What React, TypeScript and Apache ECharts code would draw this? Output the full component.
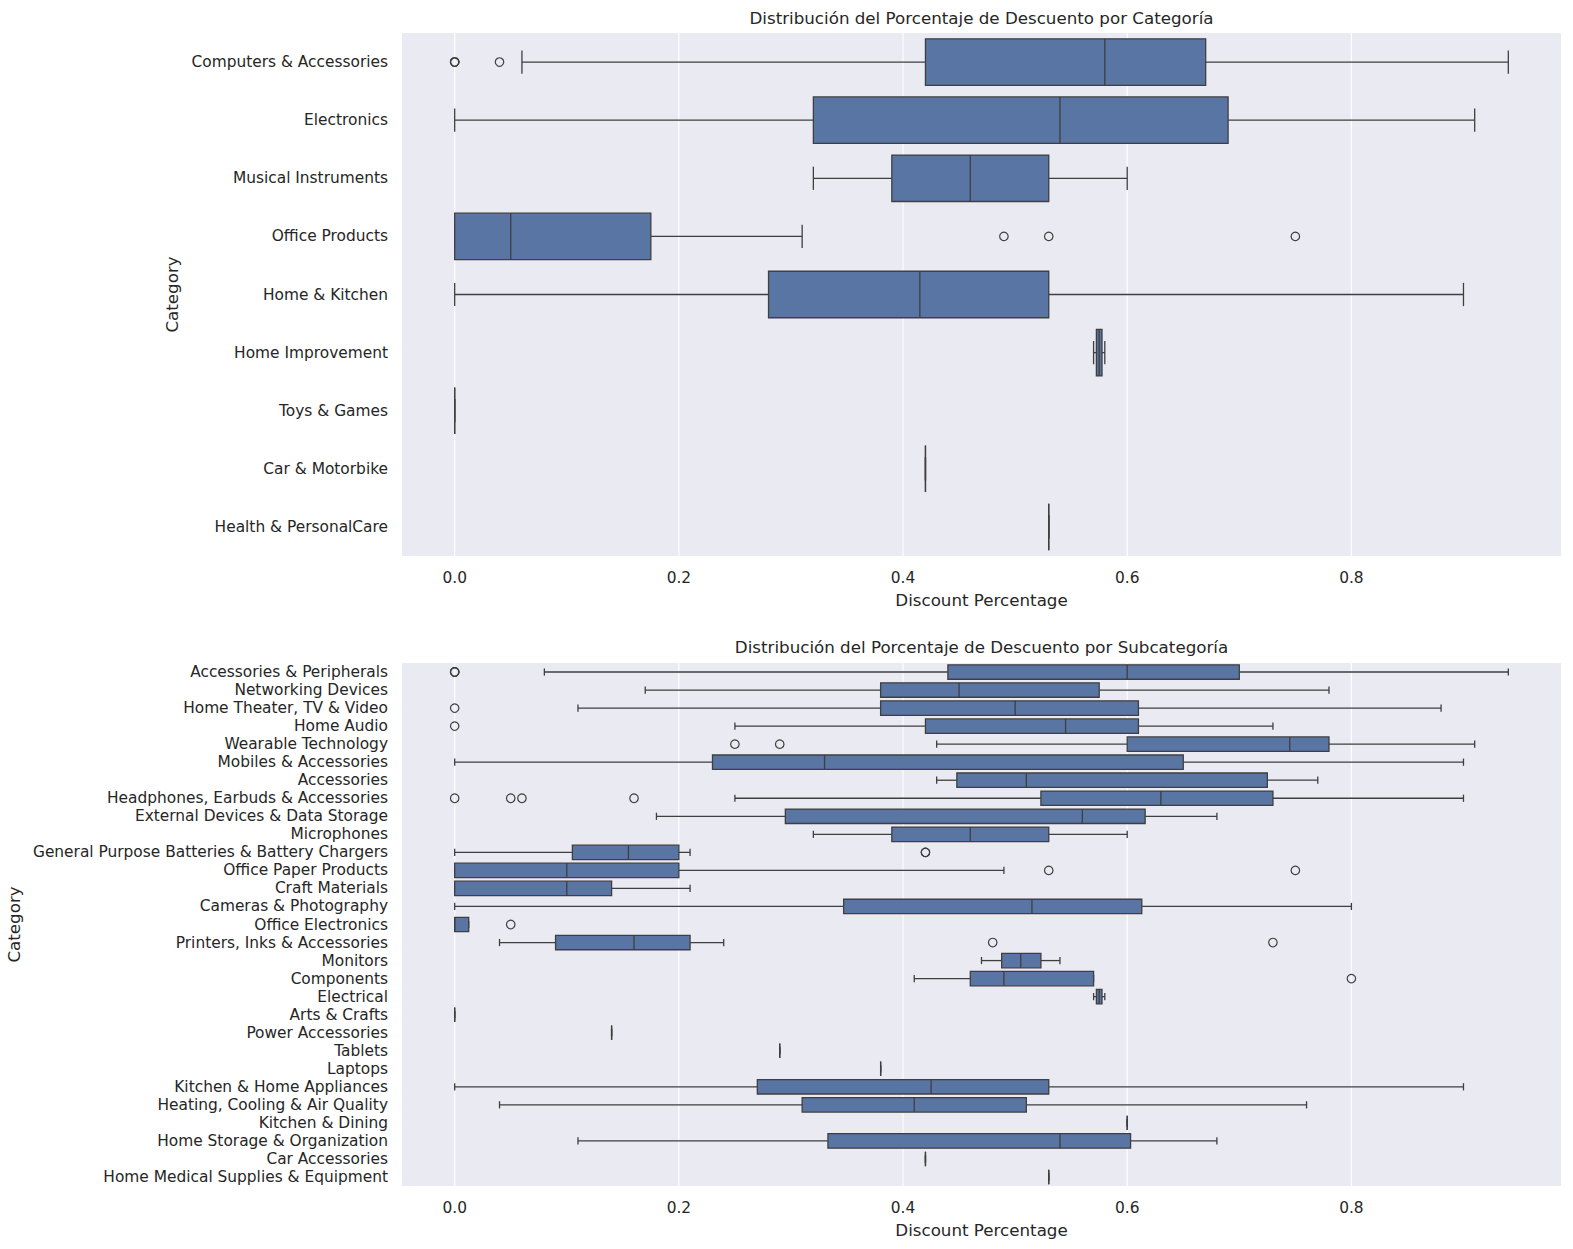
import React, { useEffect, useRef } from "react";
import * as echarts from "echarts";

// ---------- Top chart: by Category ----------
const topCategories = [
  "Computers & Accessories",
  "Electronics",
  "Musical Instruments",
  "Office Products",
  "Home & Kitchen",
  "Home Improvement",
  "Toys & Games",
  "Car & Motorbike",
  "Health & PersonalCare",
];
const topMin = [0.06, 0, 0.32, 0, 0, 0.57, 0, 0.42, 0.53];
const topQ1 = [0.42, 0.32, 0.39, 0, 0.28, 0.5725, 0, 0.42, 0.53];
const topMedian = [0.58, 0.54, 0.46, 0.05, 0.415, 0.575, 0, 0.42, 0.53];
const topQ3 = [0.67, 0.69, 0.53, 0.175, 0.53, 0.5775, 0, 0.42, 0.53];
const topMax = [0.94, 0.91, 0.6, 0.31, 0.9, 0.58, 0, 0.42, 0.53];
// [category index, value]
const topOutliers = [
  [0, 0], [0, 0], [0, 0], [0, 0.04],
  [3, 0.49], [3, 0.53], [3, 0.75],
];

// ---------- Bottom chart: by Subcategory ----------
const subCategories = [
  "Accessories & Peripherals",
  "Networking Devices",
  "Home Theater, TV & Video",
  "Home Audio",
  "Wearable Technology",
  "Mobiles & Accessories",
  "Accessories",
  "Headphones, Earbuds & Accessories",
  "External Devices & Data Storage",
  "Microphones",
  "General Purpose Batteries & Battery Chargers",
  "Office Paper Products",
  "Craft Materials",
  "Cameras & Photography",
  "Office Electronics",
  "Printers, Inks & Accessories",
  "Monitors",
  "Components",
  "Electrical",
  "Arts & Crafts",
  "Power Accessories",
  "Tablets",
  "Laptops",
  "Kitchen & Home Appliances",
  "Heating, Cooling & Air Quality",
  "Kitchen & Dining",
  "Home Storage & Organization",
  "Car Accessories",
  "Home Medical Supplies & Equipment",
];
const subMin = [0.08, 0.17, 0.11, 0.25, 0.43, 0, 0.43, 0.25, 0.18, 0.32, 0, 0, 0, 0, 0, 0.04, 0.47, 0.41, 0.57, 0, 0.14, 0.29, 0.38, 0, 0.04, 0.6, 0.11, 0.42, 0.53];
const subQ1 = [0.44, 0.38, 0.38, 0.42, 0.6, 0.23, 0.448, 0.523, 0.295, 0.39, 0.105, 0, 0, 0.347, 0, 0.09, 0.488, 0.46, 0.5725, 0, 0.14, 0.29, 0.38, 0.27, 0.31, 0.6, 0.333, 0.42, 0.53];
const subMedian = [0.6, 0.45, 0.5, 0.545, 0.745, 0.33, 0.51, 0.63, 0.56, 0.46, 0.155, 0.1, 0.1, 0.515, 0, 0.16, 0.505, 0.49, 0.575, 0, 0.14, 0.29, 0.38, 0.425, 0.41, 0.6, 0.54, 0.42, 0.53];
const subQ3 = [0.7, 0.575, 0.61, 0.61, 0.78, 0.65, 0.725, 0.73, 0.616, 0.53, 0.2, 0.2, 0.14, 0.613, 0.0125, 0.21, 0.523, 0.57, 0.5775, 0, 0.14, 0.29, 0.38, 0.53, 0.51, 0.6, 0.603, 0.42, 0.53];
const subMax = [0.94, 0.78, 0.88, 0.73, 0.91, 0.9, 0.77, 0.9, 0.68, 0.6, 0.21, 0.49, 0.21, 0.8, 0.0125, 0.24, 0.54, 0.57, 0.58, 0, 0.14, 0.29, 0.38, 0.9, 0.76, 0.6, 0.68, 0.42, 0.53];
const subOutliers = [
  [0, 0], [0, 0], [0, 0],
  [2, 0],
  [3, 0],
  [4, 0.25], [4, 0.29],
  [7, 0], [7, 0.05], [7, 0.06], [7, 0.16],
  [10, 0.42], [10, 0.42],
  [11, 0.53], [11, 0.75],
  [14, 0.05],
  [15, 0.48], [15, 0.73],
  [17, 0.8],
];

const xTicks = [0, 0.2, 0.4, 0.6, 0.8];
const X_MIN = -0.047;
const X_MAX = 0.987;

const BOX = "#5875a4";
const LINE = "#3f3f3f";
const LW = 1.3;
const TEXT = "#262626";
const FONT = "DejaVu Sans";

const buildBoxData = (cats: string[], mn: number[], q1: number[], md: number[], q3: number[], mx: number[]) =>
  cats.map((_, i) => [i, mn[i], q1[i], md[i], q3[i], mx[i]]);

const renderBox = (params: any, api: any) => {
  const c = api.value(0);
  const ymid = api.coord([0, c])[1];
  const band = api.size([0, 1])[1];
  const h = band * 0.8;
  const px = (k: number) => api.coord([api.value(k), c])[0];
  const xMin = px(1), xQ1 = px(2), xMed = px(3), xQ3 = px(4), xMax = px(5);
  const ls = { stroke: LINE, lineWidth: LW, fill: null };
  return {
    type: "group",
    children: [
      { type: "line", shape: { x1: xMin, y1: ymid, x2: xQ1, y2: ymid }, style: ls },
      { type: "line", shape: { x1: xQ3, y1: ymid, x2: xMax, y2: ymid }, style: ls },
      { type: "line", shape: { x1: xMin, y1: ymid - h / 4, x2: xMin, y2: ymid + h / 4 }, style: ls },
      { type: "line", shape: { x1: xMax, y1: ymid - h / 4, x2: xMax, y2: ymid + h / 4 }, style: ls },
      {
        type: "rect",
        shape: { x: xQ1, y: ymid - h / 2, width: xQ3 - xQ1, height: h },
        style: { fill: BOX, stroke: LINE, lineWidth: LW },
      },
      { type: "line", shape: { x1: xMed, y1: ymid - h / 2, x2: xMed, y2: ymid + h / 2 }, style: ls },
    ],
  };
};

const renderGridLine = (params: any, api: any) => {
  const x = api.coord([api.value(0), 0])[0];
  const cs = params.coordSys;
  return {
    type: "line",
    shape: { x1: x, y1: cs.y, x2: x, y2: cs.y + cs.height },
    style: { stroke: "#ffffff", lineWidth: 1.1 },
  };
};

const makeXAxis = (gridIndex: number) => ({
  type: "value",
  gridIndex,
  min: X_MIN,
  max: X_MAX,
  name: "Discount Percentage",
  nameLocation: "middle",
  nameGap: 35,
  nameTextStyle: { fontSize: 16.7, color: TEXT, fontFamily: FONT },
  axisLine: { show: false },
  axisTick: { show: false, customValues: xTicks },
  splitLine: { show: false },
  axisLabel: {
    customValues: xTicks,
    formatter: (v: number) => v.toFixed(1),
    fontSize: 15.4,
    color: TEXT,
    fontFamily: FONT,
    margin: 14,
  },
});

const makeYAxis = (gridIndex: number, cats: string[], nameGap: number) => ({
  type: "category",
  gridIndex,
  data: cats,
  inverse: true,
  name: "Category",
  nameLocation: "middle",
  nameGap,
  nameTextStyle: { fontSize: 16.7, color: TEXT, fontFamily: FONT },
  axisLine: { show: false },
  axisTick: { show: false },
  splitLine: { show: false },
  axisLabel: {
    interval: 0,
    fontSize: 15.4,
    color: TEXT,
    fontFamily: FONT,
    margin: 14,
    padding: [3, 0, 0, 0],
  },
});

export default function App() {
  const ref = useRef<HTMLDivElement>(null);
  useEffect(() => {
    if (!ref.current) return;
    const chart = echarts.init(ref.current, null, { renderer: "svg" });
    const gridSeries = (idx: number) => ({
      type: "custom",
      xAxisIndex: idx,
      yAxisIndex: idx,
      z: 0,
      renderItem: renderGridLine,
      encode: { x: 0, y: 1 },
      data: xTicks.map((v) => [v, 0]),
      silent: true,
    });
    const boxSeries = (idx: number, data: number[][]) => ({
      type: "custom",
      xAxisIndex: idx,
      yAxisIndex: idx,
      z: 2,
      renderItem: renderBox,
      encode: { x: [1, 2, 3, 4, 5], y: 0 },
      data,
    });
    const outlierSeries = (idx: number, pts: number[][]) => ({
      type: "scatter",
      xAxisIndex: idx,
      yAxisIndex: idx,
      z: 3,
      symbol: "circle",
      symbolSize: 8.5,
      itemStyle: { color: "rgba(0,0,0,0)", borderColor: LINE, borderWidth: 1.2, opacity: 1 },
      data: pts.map(([c, v]) => [v, c]),
    });
    chart.setOption({
      animation: false,
      backgroundColor: "#ffffff",
      title: [
        {
          text: "Distribución del Porcentaje de Descuento por Categoría",
          left: 981.5,
          top: 9,
          textAlign: "center",
          padding: 0,
          textStyle: { fontSize: 16.7, fontWeight: "normal", color: TEXT, fontFamily: FONT },
        },
        {
          text: "Distribución del Porcentaje de Descuento por Subcategoría",
          left: 981.5,
          top: 638,
          textAlign: "center",
          padding: 0,
          textStyle: { fontSize: 16.7, fontWeight: "normal", color: TEXT, fontFamily: FONT },
        },
      ],
      grid: [
        {
          left: 402, top: 33, width: 1159, height: 523,
          show: true, backgroundColor: "#EAEAF2", borderWidth: 0,
          containLabel: false, outerBoundsMode: "none",
        },
        {
          left: 402, top: 663, width: 1159, height: 523,
          show: true, backgroundColor: "#EAEAF2", borderWidth: 0,
          containLabel: false, outerBoundsMode: "none",
        },
      ],
      xAxis: [makeXAxis(0), makeXAxis(1)],
      yAxis: [makeYAxis(0, topCategories, 214), makeYAxis(1, subCategories, 373)],
      series: [
        gridSeries(0),
        gridSeries(1),
        boxSeries(0, buildBoxData(topCategories, topMin, topQ1, topMedian, topQ3, topMax)),
        boxSeries(1, buildBoxData(subCategories, subMin, subQ1, subMedian, subQ3, subMax)),
        outlierSeries(0, topOutliers),
        outlierSeries(1, subOutliers),
      ],
    });
    return () => chart.dispose();
  }, []);
  return (
    <div
      ref={ref}
      style={{ position: "absolute", left: 0, top: 0, width: 1573, height: 1249 }}
    />
  );
}
